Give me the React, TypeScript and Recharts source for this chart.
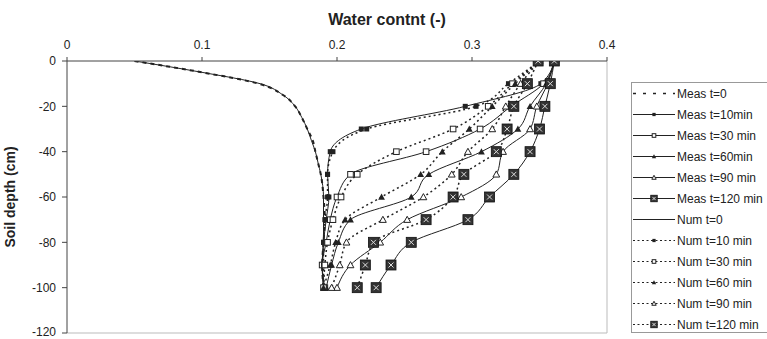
import React from 'react';
import { LineChart, Line, XAxis, YAxis, ReferenceLine, Legend } from 'recharts';

// ---- data ----
const xTicks = [0, 0.1, 0.2, 0.3, 0.4];
const yTicks = [0, -20, -40, -60, -80, -100, -120];

const t0Depths = [0, -5, -10, -15, -20, -25, -30, -35, -40, -45, -50, -60, -70, -80, -90, -100];
const numT0 = [0.05, 0.1, 0.143, 0.16, 0.169, 0.174, 0.178, 0.181, 0.184, 0.186, 0.188, 0.19, 0.19, 0.19, 0.189, 0.19];
const measT0 = [0.05, 0.1, 0.142, 0.16, 0.169, 0.174, 0.178, 0.182, 0.184, 0.186, 0.188, 0.19, 0.191, 0.19, 0.189, 0.19];

const depths = [0, -10, -20, -30, -40, -50, -60, -70, -80, -90, -100];
const measT10 = [0.361, 0.351, 0.295, 0.218, 0.195, 0.193, 0.194, 0.192, 0.19, 0.189, 0.19];
const measT30 = [0.361, 0.353, 0.329, 0.306, 0.266, 0.21, 0.2, 0.195, 0.192, 0.189, 0.191];
const measT60 = [0.361, 0.355, 0.343, 0.334, 0.307, 0.268, 0.255, 0.21, 0.201, 0.196, 0.192];
const measT90 = [0.361, 0.356, 0.348, 0.343, 0.323, 0.318, 0.292, 0.252, 0.232, 0.21, 0.2];
const measT120 = [0.361, 0.358, 0.354, 0.35, 0.343, 0.331, 0.313, 0.297, 0.255, 0.24, 0.229];
const numT10 = [0.35, 0.327, 0.303, 0.222, 0.197, 0.193, 0.193, 0.191, 0.19, 0.19, 0.19];
const numT30 = [0.35, 0.33, 0.312, 0.286, 0.244, 0.215, 0.203, 0.197, 0.193, 0.191, 0.19];
const numT60 = [0.35, 0.332, 0.315, 0.298, 0.278, 0.262, 0.233, 0.206, 0.199, 0.195, 0.19];
const numT90 = [0.35, 0.336, 0.325, 0.315, 0.297, 0.285, 0.264, 0.234, 0.207, 0.202, 0.196];
const numT120 = [0.349, 0.341, 0.331, 0.326, 0.318, 0.294, 0.286, 0.266, 0.227, 0.221, 0.215];

type Kind = 'none' | 'sq' | 'osq' | 'tri' | 'otri' | 'boxx';
type Style = 'solid' | 'dash' | 'dot';

interface Series {
  name: string;
  d: number[];
  v: number[];
  kind: Kind;
  style: Style;
}

const series: Series[] = [
  { name: 'Meas t=0', d: t0Depths, v: measT0, kind: 'none', style: 'dash' },
  { name: 'Meas t=10min', d: depths, v: measT10, kind: 'sq', style: 'solid' },
  { name: 'Meas t=30 min', d: depths, v: measT30, kind: 'osq', style: 'solid' },
  { name: 'Meas t=60min', d: depths, v: measT60, kind: 'tri', style: 'solid' },
  { name: 'Meas t=90 min', d: depths, v: measT90, kind: 'otri', style: 'solid' },
  { name: 'Meas t=120 min', d: depths, v: measT120, kind: 'boxx', style: 'solid' },
  { name: 'Num t=0', d: t0Depths, v: numT0, kind: 'none', style: 'solid' },
  { name: 'Num t=10 min', d: depths, v: numT10, kind: 'sq', style: 'dot' },
  { name: 'Num t=30 min', d: depths, v: numT30, kind: 'osq', style: 'dot' },
  { name: 'Num t=60 min', d: depths, v: numT60, kind: 'tri', style: 'dot' },
  { name: 'Num t=90 min', d: depths, v: numT90, kind: 'otri', style: 'dot' },
  { name: 'Num t=120 min', d: depths, v: numT120, kind: 'boxx', style: 'dot' },
];

const INK = '#222';

function Marker({ cx, cy, kind, s = 1 }: { cx?: number; cy?: number; kind: Kind; s?: number }) {
  if (cx == null || cy == null || kind === 'none') return null;
  if (kind === 'sq') {
    const h = 2.5 * s;
    return <rect x={cx - h} y={cy - h} width={2 * h} height={2 * h} fill={INK} />;
  }
  if (kind === 'osq') {
    const h = 2.8 * s;
    return <rect x={cx - h} y={cy - h} width={2 * h} height={2 * h} fill="#fff" stroke={INK} strokeWidth={1} />;
  }
  if (kind === 'tri' || kind === 'otri') {
    const h = 3.4 * s;
    const pts = `${cx},${cy - h} ${cx + h},${cy + h * 0.8} ${cx - h},${cy + h * 0.8}`;
    return kind === 'tri' ? (
      <polygon points={pts} fill={INK} />
    ) : (
      <polygon points={pts} fill="#fff" stroke={INK} strokeWidth={1} />
    );
  }
  const h = 5 * s;
  const k = h * 0.5;
  return (
    <g>
      <rect x={cx - h} y={cy - h} width={2 * h} height={2 * h} fill="#333" stroke="#111" strokeWidth={0.8} />
      <path
        d={`M${cx - k},${cy - k}L${cx + k},${cy + k}M${cx + k},${cy - k}L${cx - k},${cy + k}`}
        stroke="#ddd"
        strokeWidth={1}
      />
    </g>
  );
}

const dashOf = (st: Style) => (st === 'dash' ? '4 4' : st === 'dot' ? '2 3' : undefined);
const widthOf = (st: Style) => (st === 'dash' ? 2 : st === 'dot' ? 1.5 : 1);

function LegendBox() {
  return (
    <div
      style={{
        width: 136,
        height: 251,
        borderTop: '1px solid #999',
        borderLeft: '1px solid #999',
        borderBottom: '1px solid #999',
        background: '#fff',
        fontFamily: 'Liberation Sans, Arial, sans-serif',
        fontSize: 12,
        color: '#222',
        boxSizing: 'border-box',
      }}
    >
      {series.map((s) => (
        <div key={s.name} style={{ height: 21, display: 'flex', alignItems: 'center', whiteSpace: 'nowrap' }}>
          <svg width={45} height={21} style={{ flex: 'none' }}>
            <line
              x1={1}
              y1={10.5}
              x2={43}
              y2={10.5}
              stroke={INK}
              strokeWidth={s.style === 'dash' ? 1.5 : 1}
              strokeDasharray={s.style === 'dash' ? '3 7' : s.style === 'dot' ? '2 2.5' : undefined}
            />
            <Marker cx={22} cy={10.5} kind={s.kind} s={0.65} />
          </svg>
          <span>{s.name}</span>
        </div>
      ))}
    </div>
  );
}

export default function App() {
  return (
    <div style={{ position: 'absolute', left: 0, top: 0, width: 767, height: 339, overflow: 'hidden', background: '#fff' }}>
      <LineChart
        width={767}
        height={339}
        layout="vertical"
        margin={{ top: 31, right: 160, bottom: 6, left: 10 }}
        style={{ fontFamily: 'Liberation Sans, Arial, sans-serif' }}
      >
        <XAxis
          type="number"
          orientation="top"
          domain={[0, 0.4]}
          ticks={xTicks}
          allowDataOverflow
          height={30}
          axisLine={{ stroke: '#444' }}
          tickLine={{ stroke: '#444' }}
          tickSize={4}
          tickMargin={8}
          tick={{ fontSize: 12, fill: '#222' }}
          label={() => (
            <text x={387} y={25} textAnchor="middle" fontSize={16} fontWeight="bold" fill="#222">
              Water contnt (-)
            </text>
          )}
        />
        <YAxis
          type="number"
          dataKey="d"
          domain={[-120, 0]}
          ticks={yTicks}
          reversed
          allowDataOverflow
          width={57}
          axisLine={{ stroke: '#444' }}
          tickLine={{ stroke: '#444' }}
          tickSize={5}
          tickMargin={6}
          tick={{ fontSize: 12, fill: '#222' }}
          label={() => (
            <text
              x={15}
              y={197}
              transform="rotate(-90 15 197)"
              textAnchor="middle"
              fontSize={14}
              fontWeight="bold"
              fill="#222"
            >
              Soil depth (cm)
            </text>
          )}
        />
        <ReferenceLine x={0.4} stroke="#bbb" />
        <ReferenceLine y={-120} stroke="#bbb" />
        {series.map((s) => (
          <Line
            key={s.name}
            name={s.name}
            data={s.d.map((d, i) => ({ d, v: s.v[i] }))}
            dataKey="v"
            type="monotone"
            stroke={INK}
            strokeWidth={widthOf(s.style)}
            strokeDasharray={dashOf(s.style)}
            isAnimationActive={false}
            activeDot={false}
            dot={
              s.kind === 'none'
                ? false
                : (p: any) => <Marker key={`${s.name}-${p.index}`} cx={p.cx} cy={p.cy} kind={s.kind} />
            }
          />
        ))}
        <Legend
          layout="vertical"
          align="center"
          verticalAlign="middle"
          wrapperStyle={{ left: 631, top: 82, width: 136, height: 251 }}
          content={() => <LegendBox />}
        />
      </LineChart>
    </div>
  );
}
